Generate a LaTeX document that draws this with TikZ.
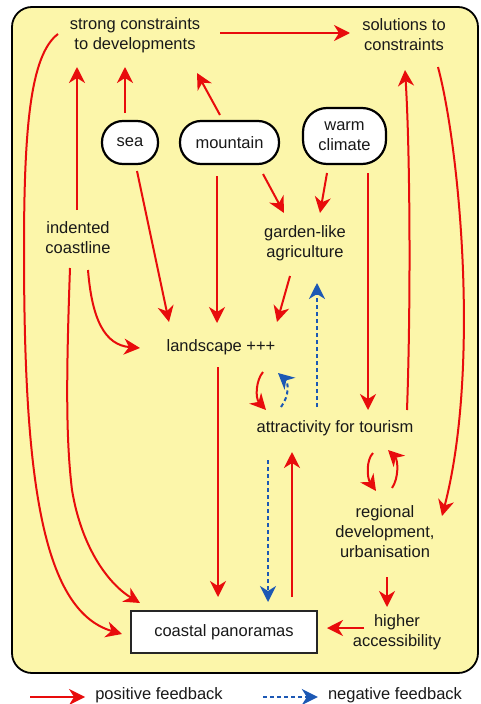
\documentclass[tikz,border=0pt]{standalone}
\usepackage{fontspec}
\setmainfont{Liberation Sans}
\usetikzlibrary{arrows.meta,calc}
\definecolor{bgy}{RGB}{252,246,170}
\definecolor{posred}{RGB}{232,12,12}
\definecolor{negblue}{RGB}{28,88,180}
\tikzset{
  lbl/.style={font=\fontsize{16.5}{20}\selectfont, align=center, inner sep=1pt, text=black!90},
  blob/.style={lbl, draw=black, line width=2.2pt, fill=white, rounded corners=21pt},
  posarrow/.style={draw=posred, line width=2pt, -{Stealth[length=16pt,width=16pt,inset=5pt]}},
  negarrow/.style={draw=negblue, line width=2pt, dash pattern=on 4pt off 3pt, -{Stealth[length=16pt,width=16pt,inset=5pt]}},
}
\begin{document}
\begin{tikzpicture}[x=1pt,y=-1pt]
\useasboundingbox (0,0) rectangle (480,704);
\draw[fill=bgy, line width=1.8pt, rounded corners=20pt] (12,7) rectangle (478,673);

% nodes
\node[lbl] (strong) at (135,35) {strong constraints\\to developments};
\node[lbl] (sol) at (404,35) {solutions to\\constraints};
\node[blob, minimum width=56pt, minimum height=43pt] (sea) at (130,142.5) {sea};
\node[blob, minimum width=99pt, minimum height=43pt] (mountain) at (229.5,142.5) {mountain};
\node[blob, rounded corners=24pt, minimum width=83pt, minimum height=56pt] (warm) at (344.5,136) {warm\\climate};
\node[lbl] (coast) at (78,238) {indented\\coastline};
\node[lbl] (garden) at (305,243) {garden-like\\agriculture};
\node[lbl] (land) at (221,347) {landscape +++};
\node[lbl] (attr) at (335,428) {attractivity for tourism};
\node[lbl] (reg) at (385,532) {regional\\development,\\urbanisation};
\node[lbl] (acc) at (397,632) {higher\\accessibility};
\node[lbl, draw=black!85, line width=2pt, fill=white, minimum width=186pt, minimum height=42pt] (pan) at (224,632) {coastal panoramas};

% legend
\node[lbl] (postxt) at (159,695) {positive feedback};
\node[lbl] (negtxt) at (395,695) {negative feedback};
\coordinate (posstart) at (30,697);
\coordinate (negstart) at (263,697);
\draw[posarrow] (posstart) -- ($(postxt.west)+(-9,2)$);
\draw[negarrow] (negstart) -- ($(negtxt.west)+(-9,2)$);

% positive connectors
\draw[posarrow] ($(strong)+(85,-2)$) -- ($(sol)+(-54,-2)$);
\draw[posarrow] ($(strong)+(-77,-1)$) .. controls (30,55) and (24,130) .. (24,250)
   .. controls (24,470) and (40,610) .. ($(pan)+(-102,2)$);
\draw[posarrow] ($(coast)+(-1,-28)$) -- ($(strong)+(-58,32)$);
\draw[posarrow] ($(sea)+(-5,-29.5)$) -- ($(strong)+(-10,32)$);
\draw[posarrow] ($(mountain)+(-9.5,-27.5)$) -- ($(strong)+(62,38)$);
\draw[posarrow] ($(sea)+(7,28.5)$) -- ($(land)+(-52,-25)$);
\draw[posarrow] ($(mountain)+(-12.5,33.5)$) -- ($(land)+(-4,-24)$);
\draw[posarrow] ($(mountain)+(33.5,31.5)$) -- ($(garden)+(-21,-30)$);
\draw[posarrow] ($(warm)+(-17.5,37)$) -- ($(garden)+(15,-30)$);
\draw[posarrow] ($(warm)+(23.5,37)$) -- ($(attr)+(33,-18)$);
\draw[posarrow] ($(attr)+(72,-18)$) .. controls (411,300) and (410,150) .. ($(sol)+(1,35)$);
\draw[posarrow] ($(sol)+(34,32)$) .. controls (460,150) and (480,370) .. ($(reg)+(57,-16)$);
\draw[posarrow] ($(coast)+(10,32)$) .. controls (92,320) and (105,345) .. ($(land)+(-81,1)$);
\draw[posarrow] ($(coast)+(-8,30)$) .. controls (66,380) and (66,440) .. (72,490)
   .. controls (82,550) and (110,585) .. ($(pan)+(-84,-29)$);
\draw[posarrow] ($(garden)+(-15,33)$) -- ($(land)+(56,-25)$);
\draw[posarrow] ($(land)+(42,25)$) .. controls (256,380) and (255,398) .. ($(attr)+(-69,-18)$);
\draw[posarrow] ($(land)+(-3,20)$) -- ($(pan)+(-6,-35)$);
\draw[posarrow] ($(pan)+(68,-35)$) -- ($(attr)+(-43,24)$);
\draw[posarrow] ($(attr)+(38,25)$) .. controls (366,460) and (367,478) .. ($(reg)+(-9,-41)$);
\draw[posarrow] ($(reg)+(7,-44)$) .. controls (399,478) and (398,460) .. ($(attr)+(53,22)$);
\draw[posarrow] ($(reg)+(2,45)$) -- ($(acc)+(-10,-25)$);
\draw[posarrow] ($(acc)+(-33,-4)$) -- ($(pan)+(103,-4)$);

% negative connectors
\draw[negarrow] ($(attr)+(-18,-21)$) -- ($(garden)+(12,40)$);
\draw[negarrow] ($(attr)+(-54,-21)$) .. controls (290,395) and (288,382) .. ($(land)+(57,26)$);
\draw[negarrow] ($(attr)+(-67,32)$) -- ($(pan)+(44,-30)$);
\end{tikzpicture}
\end{document}
